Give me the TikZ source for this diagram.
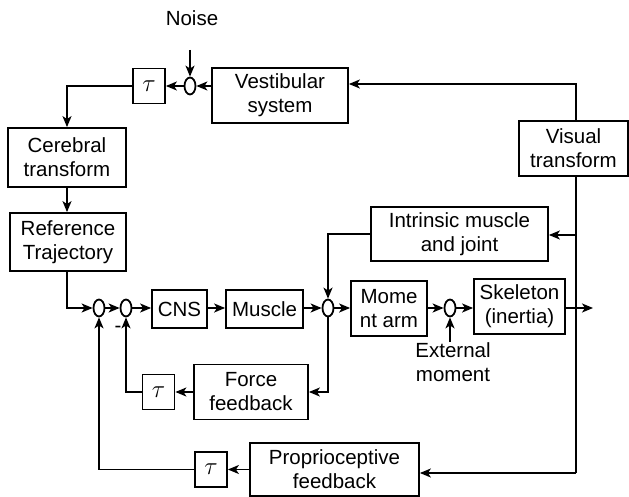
\documentclass[tikz,border=0pt]{standalone}
\usepackage{fontspec}
\setmainfont{Liberation Sans}
\usetikzlibrary{arrows.meta,shapes.geometric}
\begin{document}
\begin{tikzpicture}[x=1pt,y=-1pt,
  blk/.style={draw,line width=1.8pt,align=center,inner sep=0pt,font=\fontsize{20.5}{24}\selectfont},
  taub/.style={draw,line width=1.8pt,inner sep=0pt,minimum width=32pt,minimum height=35pt,font=\fontsize{27}{30}\selectfont},
  sumc/.style={draw,ellipse,line width=1.8pt,inner sep=0pt,minimum width=11pt,minimum height=17pt},
  lbl/.style={align=center,inner sep=0pt,font=\fontsize{20.5}{24}\selectfont},
  con/.style={line width=1.8pt,-{Stealth[length=11pt,width=9pt,inset=3pt]}},
  ln/.style={line width=1.8pt}]
\useasboundingbox (0,0) rectangle (629,497);
% labels
\node[lbl] (noise) at (192,18) {Noise};
\node[lbl] (ext) at (453,362) {External\\moment};
\node[lbl] (minus) at (118,329) {-};
% top row
\node[sumc] (sumN) at (190,86) {};
\node[taub] (tau1) at (149,86) {$\tau$};
\node[blk,minimum width=136pt,minimum height=55pt] (vest) at (280,95.5) {Vestibular\\system};
\node[blk,minimum width=109pt,minimum height=55pt] (vis) at (573.5,148.5) {Visual\\transform};
% left column
\node[blk,minimum width=118pt,minimum height=59pt] (cereb) at (67,157.5) {Cerebral\\transform};
\node[blk,minimum width=116pt,minimum height=58pt] (ref) at (68,242) {Reference\\Trajectory};
% intrinsic
\node[blk,minimum width=177pt,minimum height=54pt] (intr) at (459.5,234) {Intrinsic muscle\\and joint};
% main line
\node[sumc] (sum1) at (99,308) {};
\node[sumc] (sum2) at (126,308) {};
\node[blk,minimum width=55pt,minimum height=38pt] (cns) at (179.5,309) {CNS};
\node[blk,minimum width=77pt,minimum height=38pt] (mus) at (264.5,309) {Muscle};
\node[sumc] (sum3) at (328,308) {};
\node[blk,minimum width=76pt,minimum height=55pt] (mom) at (389,308.5) {Mome\\nt arm};
\node[sumc] (sum4) at (450,308) {};
\node[blk,minimum width=91pt,minimum height=55pt] (skel) at (519.5,306.5) {Skeleton\\(inertia)};
% feedback
\node[blk,minimum width=114pt,minimum height=55pt] (force) at (251,392) {Force\\feedback};
\node[taub] (tau2) at (158.5,392) {$\tau$};
\node[blk,minimum width=169pt,minimum height=53pt] (prop) at (334.5,469.5) {Proprioceptive\\feedback};
\node[taub] (tau3) at (211,469.5) {$\tau$};
% coordinates
\coordinate (noisetop) at (190,50);
\coordinate (extbot) at (450,342);
\coordinate (out) at (593,308);
\coordinate (vtop) at (576,84);
\coordinate (vbr) at (576,235);
\coordinate (vb) at (576,473);
% connectors top
\draw[con] (noisetop) -- (sumN);
\draw[con] (vest.west |- sumN) -- (sumN);
\draw[con] (sumN) -- (sumN -| tau1.east);
\draw[con] (tau1.west) -| (cereb.north);
\draw[con] (cereb.south) -- (cereb.south |- ref.north);
\draw[con] (cereb.south |- ref.south) |- (sum1);
% main line
\draw[con] (sum1) -- (sum2);
\draw[con] (sum2) -- (sum2 -| cns.west);
\draw[con] (cns.east |- sum2) -- (mus.west |- sum2);
\draw[con] (mus.east |- sum3) -- (sum3);
\draw[con] (sum3) -- (sum3 -| mom.west);
\draw[con] (mom.east |- sum4) -- (sum4);
\draw[con] (sum4) -- (sum4 -| skel.west);
\draw[con] (skel.east |- sum4) -- (out);
\draw[con] (extbot) -- (sum4);
% visual
\draw[con] (vis.north -| vtop) -- (vtop) -- (vest.east |- vtop);
\draw[ln] (vis.south -| vb) -- (vb);
\draw[con] (vb) -- (prop.east |- vb);
\draw[con] (vbr) -- (intr.east |- vbr);
\draw[con] (intr.west) -| (sum3);
% feedback loops
\draw[con] (sum3) |- (force.east);
\draw[con] (force.west) -- (tau2.east);
\draw[con] (tau2.west) -| (sum2);
\draw[con] (prop.west) -- (tau3.east);
\draw[con] (tau3.west) -| (sum1);
\end{tikzpicture}
\end{document}
